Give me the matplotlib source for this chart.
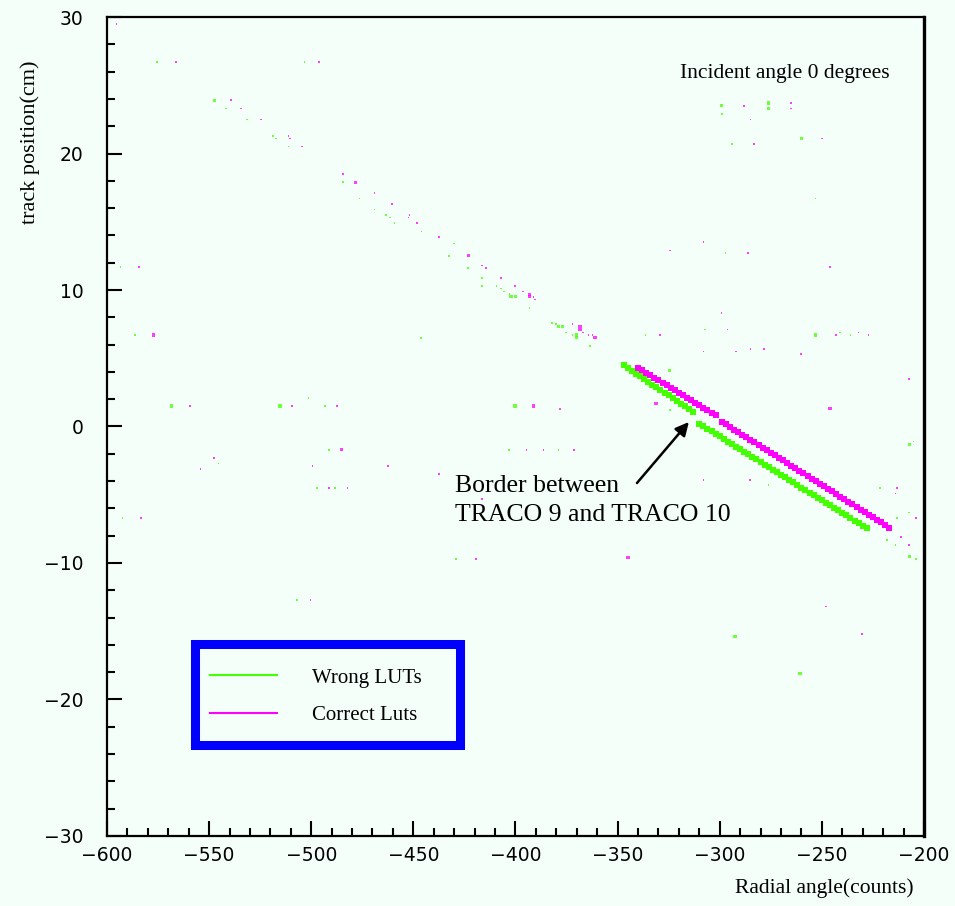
import matplotlib
matplotlib.use("Agg")
import matplotlib.pyplot as plt
from matplotlib.lines import Line2D
from matplotlib.patches import Rectangle
import numpy as np

# main bands, one box per radial-angle bin (counts, cm)
wrong_band_x = [-347, -345, -343, -341, -339, -337, -335, -333, -331, -329,
                -327, -325, -323, -321, -319, -317, -315, -313,
                -310, -308, -306, -304, -302, -300, -298, -296, -294, -292,
                -290, -288, -286, -284, -282, -280, -278, -276, -274, -272,
                -270, -268, -266, -264, -262, -260, -258, -256, -254, -252,
                -250, -248, -246, -244, -242, -240, -238, -236, -234, -232,
                -230, -228]
wrong_band_y = [4.47, 4.27, 4.07, 3.87, 3.67, 3.47, 3.27, 3.07, 2.87, 2.68,
                2.48, 2.28, 2.08, 1.88, 1.68, 1.48, 1.28, 1.08,
                0.20, 0.02, -0.17, -0.36, -0.54, -0.73, -0.92, -1.10, -1.29, -1.48,
                -1.66, -1.85, -2.04, -2.22, -2.41, -2.60, -2.79, -2.97, -3.16, -3.35,
                -3.53, -3.72, -3.91, -4.09, -4.28, -4.47, -4.65, -4.84, -5.03, -5.21,
                -5.40, -5.59, -5.77, -5.96, -6.15, -6.33, -6.52, -6.71, -6.89, -7.08,
                -7.27, -7.45]

correct_band_x = [-340, -338, -336, -334, -332, -330, -328, -326, -324, -322,
                  -320, -318, -316, -314, -312, -310, -308, -306, -304, -302,
                  -299, -297, -295, -293, -291, -289, -287, -285, -283, -281,
                  -279, -277, -275, -273, -271, -269, -267, -265, -263, -261,
                  -259, -257, -255, -253, -251, -249, -247, -245, -243, -241,
                  -239, -237, -235, -233, -231, -229, -227, -225, -223, -221,
                  -219, -217]
correct_band_y = [4.31, 4.13, 3.95, 3.76, 3.58, 3.39, 3.21, 3.03, 2.84, 2.66,
                  2.47, 2.29, 2.11, 1.92, 1.74, 1.55, 1.37, 1.19, 1.00, 0.82,
                  0.34, 0.15, -0.04, -0.23, -0.42, -0.60, -0.79, -0.98, -1.17, -1.36,
                  -1.55, -1.74, -1.93, -2.12, -2.31, -2.49, -2.68, -2.87, -3.06, -3.25,
                  -3.44, -3.63, -3.82, -4.01, -4.20, -4.38, -4.57, -4.76, -4.95, -5.14,
                  -5.33, -5.52, -5.71, -5.90, -6.09, -6.27, -6.46, -6.65, -6.84, -7.03,
                  -7.22, -7.41]

# scattered single bins away from the bands: x, y, entries
wrong_hits_x = [-547.5, -541.7, -531.3, -518.6, -517.3, -511.2, -484.3, -476.3, -469.1, -463.4,
                -461.4, -459.3, -446.1, -430.1, -432.6, -423.1, -416.3, -416.3, -409.2, -407.2,
                -405.5, -403.0, -402.2, -400.1, -393.2, -382.1, -380.2, -379.0, -376.9, -375.3,
                -372.0, -370.1, -370.1, -363.4, -446.3, -593.3, -586.3, -575.4, -503.2, -299.0,
                -276.0, -276.0, -299.0, -260.1, -294.0, -253.2, -297.1, -307.2, -253.2, -241.1,
                -235.9, -336.3, -568.3, -515.3, -501.4, -493.3, -400.2, -491.3, -403.3, -379.0,
                -545.3, -497.3, -488.4, -592.3, -429.1, -507.1, -207.2, -205.2, -221.5, -207.2,
                -213.1, -218.0, -214.0, -207.2, -203.9, -292.5, -260.7, -324.4, -324.4, -276.2]
wrong_hits_y = [23.9, 23.3, 22.5, 21.3, 21.1, 20.5, 17.9, 16.7, 15.9, 15.5,
                15.3, 14.9, 14.3, 13.4, 12.5, 11.6, 10.9, 10.3, 10.3, 10.1,
                9.9, 9.7, 9.5, 9.5, 8.7, 7.6, 7.5, 7.3, 7.3, 6.9,
                6.7, 6.7, 6.5, 5.9, 6.5, 11.7, 6.7, 26.7, 26.7, 23.5,
                23.7, 23.3, 22.9, 21.1, 20.7, 16.7, 12.7, 7.1, 6.7, 6.9,
                6.7, 6.7, 1.5, 1.5, 2.1, 1.5, 1.5, -1.7, -1.7, -1.7,
                -2.7, -4.5, -4.5, -6.7, -9.7, -12.7, -1.3, -1.1, -4.5, -6.3,
                -6.7, -8.3, -8.7, -9.5, -9.7, -15.4, -18.1, 4.1, 1.2, -4.3]
wrong_hits_n = [3, 1, 1, 1, 1, 1, 1, 1, 1, 1,
                1, 1, 1, 1, 1, 1, 1, 1, 1, 1,
                1, 1, 3, 3, 1, 1, 1, 3, 3, 1,
                1, 3, 3, 1, 1, 1, 1, 1, 1, 3,
                3, 3, 1, 3, 1, 1, 1, 1, 3, 1,
                1, 1, 3, 3, 1, 1, 3, 1, 1, 1,
                1, 1, 1, 1, 1, 1, 3, 1, 1, 1,
                1, 1, 1, 3, 1, 3, 3, 3, 1, 1]

correct_hits_x = [-539.3, -534.4, -524.5, -511.2, -510.3, -504.4, -484.3, -478.2, -469.1, -460.3,
                  -451.8, -452.3, -448.2, -437.3, -423.1, -416.3, -414.3, -407.2, -400.1, -396.2,
                  -393.2, -393.2, -391.1, -390.3, -372.0, -368.4, -368.4, -366.8, -364.2, -362.2,
                  -361.1, -584.2, -577.3, -566.2, -496.2, -595.3, -288.1, -265.1, -265.1, -285.0,
                  -249.9, -283.2, -308.0, -324.2, -286.2, -246.0, -299.2, -296.1, -243.1, -232.0,
                  -227.1, -329.3, -308.0, -292.0, -285.0, -278.2, -260.1, -559.4, -509.3, -487.3,
                  -391.3, -378.2, -485.3, -394.6, -386.2, -371.2, -547.5, -554.3, -499.3, -462.3,
                  -437.3, -491.3, -482.2, -583.4, -419.3, -500.3, -416.3, -207.2, -213.1, -214.0,
                  -203.9, -211.1, -207.2, -200.3, -344.9, -248.0, -230.4, -246.0, -331.2, -308.0,
                  -285.2]
correct_hits_y = [23.9, 23.3, 22.5, 21.3, 21.1, 20.5, 18.5, 17.9, 17.1, 16.3,
                  15.5, 15.3, 14.9, 13.9, 12.5, 11.8, 11.6, 10.9, 10.3, 9.9,
                  9.7, 9.5, 9.5, 9.3, 7.5, 7.3, 7.1, 6.9, 6.7, 6.7,
                  6.5, 11.7, 6.7, 26.7, 26.7, 29.5, 23.5, 23.7, 23.3, 22.5,
                  21.1, 20.7, 13.5, 12.9, 12.7, 11.7, 8.3, 7.1, 6.7, 6.9,
                  6.7, 6.7, 5.5, 5.5, 5.7, 5.7, 5.3, 1.5, 1.5, 1.5,
                  1.5, 1.3, -1.7, -1.7, -1.7, -1.7, -2.3, -3.1, -2.9, -2.9,
                  -3.5, -4.5, -4.5, -6.7, -9.7, -12.7, -5.3, 3.5, -4.5, -4.9,
                  -6.7, -8.1, -8.7, -9.3, -9.6, -13.2, -15.2, 1.3, 1.7, -3.9,
                  -3.9]
correct_hits_n = [1, 1, 1, 1, 1, 1, 1, 3, 1, 1,
                  1, 1, 1, 1, 3, 1, 1, 1, 1, 1,
                  3, 3, 1, 1, 1, 3, 3, 1, 1, 1,
                  3, 1, 3, 1, 1, 1, 1, 1, 1, 1,
                  1, 1, 1, 1, 1, 1, 1, 1, 1, 1,
                  1, 1, 1, 1, 1, 1, 1, 1, 1, 1,
                  3, 1, 3, 1, 1, 1, 1, 1, 1, 1,
                  1, 1, 1, 1, 1, 1, 1, 1, 1, 1,
                  1, 1, 1, 1, 3, 1, 1, 3, 3, 1,
                  1]

series_labels = ["Wrong LUTs", "Correct Luts"]

bg = "#f4fff9"
green = "#44ff00"
magenta = "#ff00ff"
serif = "Liberation Serif"

fig = plt.figure(figsize=(9.55, 9.06), dpi=100, facecolor=bg)
ax = fig.add_axes([0.1120, 0.0773, 0.8555, 0.9039], facecolor=bg)


def box_sizes(n):
    # square side in pixels grows with bin content
    side = np.where(np.asarray(n) > 1, 3.2, 1.6)
    return (side * 0.72) ** 2


ax.scatter(wrong_hits_x, wrong_hits_y, s=box_sizes(wrong_hits_n), marker="s",
           c=green, linewidths=0, alpha=0.75)
ax.scatter(correct_hits_x, correct_hits_y, s=box_sizes(correct_hits_n), marker="s",
           c=magenta, linewidths=0, alpha=0.75)
ax.scatter(wrong_band_x, wrong_band_y, s=(5.2 * 0.72) ** 2, marker="s",
           c=green, linewidths=0)
ax.scatter(correct_band_x, correct_band_y, s=(5.2 * 0.72) ** 2, marker="s",
           c=magenta, linewidths=0)

ax.set_xlim(-600, -200)
ax.set_ylim(-30, 30)
ax.set_xticks(np.arange(-600, -199, 50))
ax.set_xticks(np.arange(-600, -199, 10), minor=True)
ax.set_yticks(np.arange(-30, 31, 10))
ax.set_yticks(np.arange(-30, 31, 2), minor=True)
ax.set_xticklabels([f"\u2212{abs(v)}" for v in range(-600, -199, 50)])
ax.set_yticklabels([f"\u2212{abs(v)}" if v < 0 else str(v) for v in range(-30, 31, 10)])

ax.tick_params(which="both", direction="in", top=False, right=False,
               width=1.5, color="black", labelsize=13.5)
ax.tick_params(axis="x", which="major", length=11, pad=7)
ax.tick_params(axis="y", which="major", length=11, pad=17)
ax.tick_params(which="minor", length=5.5)
for side in ax.spines.values():
    side.set_linewidth(1.6)
ax.spines["right"].set_linewidth(2.4)

ax.set_xlabel("Radial angle(counts)", family=serif, fontsize=15.5)
ax.xaxis.set_label_coords(0.987, -0.052)
ax.xaxis.label.set_ha("right")
ax.set_ylabel("track position(cm)", family=serif, fontsize=16)
ax.yaxis.set_label_coords(-0.082, 0.847)

ax.text(-319.5, 25.5, "Incident angle 0 degrees", family=serif, fontsize=15.5,
        va="baseline", ha="left")

ax.annotate("", xy=(-315.1, 0.33), xytext=(-340.5, -4.14),
            arrowprops=dict(arrowstyle="-|>,head_length=0.8,head_width=0.4",
                            color="black", lw=1.8, shrinkA=0, shrinkB=0))
ax.text(-429.6, -4.8, "Border between", family=serif, fontsize=18.5,
        va="baseline", ha="left")
ax.text(-429.6, -6.95, "TRACO 9 and TRACO 10", family=serif, fontsize=18.5,
        va="baseline", ha="left")

# legend: thick blue box, entries placed inside it
ax.add_patch(Rectangle((0.1083, 0.1105), 0.3244, 0.1233, transform=ax.transAxes,
                       facecolor=bg, edgecolor="#0000ff", linewidth=6.5, zorder=4))
handles = [Line2D([], [], color=green, lw=1.5), Line2D([], [], color=magenta, lw=1.5)]
leg = ax.legend(handles, series_labels, loc="upper left",
                bbox_to_anchor=(0.1261, 0.2052), frameon=False,
                prop={"family": serif, "size": 15},
                handlelength=3.2, handletextpad=1.7,
                labelspacing=0.86, borderpad=0, borderaxespad=0)
leg.set_zorder(5)

fig.savefig("out.png", dpi=100, facecolor=bg)
